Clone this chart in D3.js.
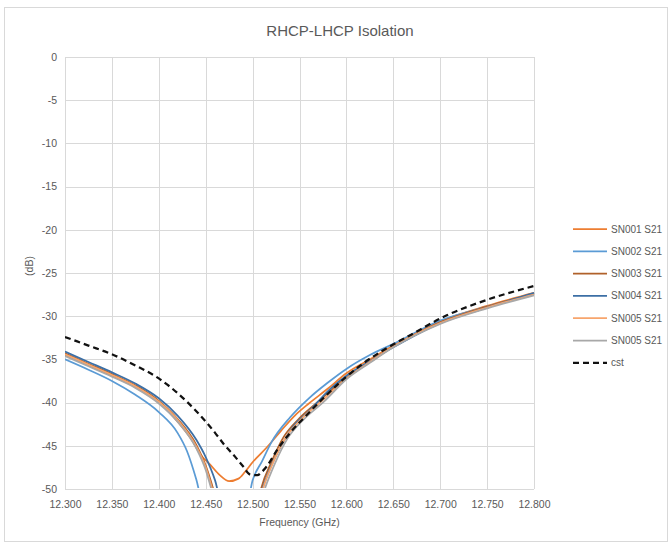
<!DOCTYPE html>
<html>
<head>
<meta charset="utf-8">
<script src="https://cdn.jsdelivr.net/npm/d3@7"></script>
<style>
  body { margin: 0; background: #fff; }
  text { font-family: "Liberation Sans", Arial, sans-serif; fill: #595959; }
</style>
</head>
<body>
<script>
// tick labels
var xTicks = [12.30, 12.35, 12.40, 12.45, 12.50, 12.55, 12.60, 12.65, 12.70, 12.75, 12.80];
var yTicks = [0, -5, -10, -15, -20, -25, -30, -35, -40, -45, -50];

var sn001Freq = [12.300, 12.325, 12.350, 12.375, 12.400, 12.420, 12.435, 12.445, 12.455, 12.465, 12.475, 12.485, 12.492, 12.500, 12.515, 12.530, 12.545, 12.560, 12.580, 12.600, 12.625, 12.650, 12.700, 12.750, 12.800];
var sn001Db   = [-34.5, -35.7, -36.9, -38.2, -39.9, -42.2, -44.3, -46.1, -47.2, -48.4, -49.1, -48.8, -48.0, -46.9, -45.2, -43.3, -41.5, -40.1, -38.4, -36.6, -35.0, -33.4, -30.6, -28.8, -27.3];

var sn002Freq = [12.300, 12.325, 12.350, 12.375, 12.400, 12.420, 12.430, 12.440, 12.450, 12.490, 12.500, 12.510, 12.520, 12.540, 12.560, 12.580, 12.600, 12.625, 12.650, 12.700, 12.750, 12.800];
var sn002Db   = [-35.0, -36.2, -37.5, -39.1, -41.1, -43.5, -45.6, -48.9, -53.0, -54.0, -49.0, -46.8, -44.6, -41.7, -39.5, -37.7, -36.1, -34.5, -33.2, -30.5, -28.9, -27.4];

var sn003Freq = [12.300, 12.325, 12.350, 12.375, 12.400, 12.420, 12.440, 12.450, 12.458, 12.470, 12.500, 12.509, 12.520, 12.533, 12.550, 12.572, 12.600, 12.625, 12.650, 12.700, 12.750, 12.800];
var sn003Db   = [-34.3, -35.5, -36.7, -38.0, -39.8, -41.9, -44.9, -47.3, -50.0, -55.0, -55.0, -50.0, -46.9, -44.0, -41.8, -39.7, -37.1, -35.3, -33.5, -30.7, -28.9, -27.4];

var sn004Freq = [12.300, 12.325, 12.350, 12.375, 12.400, 12.420, 12.440, 12.450, 12.460, 12.470, 12.500, 12.511, 12.520, 12.530, 12.543, 12.561, 12.582, 12.600, 12.625, 12.650, 12.700, 12.750, 12.800];
var sn004Db   = [-34.1, -35.3, -36.5, -37.8, -39.5, -41.5, -44.3, -46.3, -49.0, -53.0, -54.0, -49.8, -47.3, -45.1, -42.8, -40.9, -38.5, -36.9, -35.2, -33.6, -30.8, -29.0, -27.3];

var sn005aFreq = [12.300, 12.325, 12.350, 12.375, 12.400, 12.420, 12.440, 12.450, 12.457, 12.470, 12.500, 12.511, 12.522, 12.535, 12.552, 12.574, 12.600, 12.625, 12.650, 12.700, 12.750, 12.800];
var sn005aDb   = [-34.4, -35.6, -36.8, -38.1, -39.9, -42.0, -45.1, -47.5, -50.0, -55.0, -55.0, -50.0, -46.9, -44.1, -41.9, -39.8, -37.2, -35.3, -33.5, -30.8, -29.0, -27.5];

var sn005bFreq = [12.300, 12.325, 12.350, 12.375, 12.400, 12.420, 12.440, 12.450, 12.456, 12.470, 12.500, 12.513, 12.524, 12.537, 12.554, 12.576, 12.600, 12.625, 12.650, 12.700, 12.750, 12.800];
var sn005bDb   = [-34.6, -35.8, -37.0, -38.3, -40.1, -42.2, -45.3, -47.8, -50.0, -55.0, -55.0, -50.0, -47.0, -44.2, -42.0, -39.9, -37.3, -35.4, -33.6, -30.9, -29.1, -27.6];

var cstFreq = [12.300, 12.325, 12.350, 12.375, 12.400, 12.420, 12.430, 12.440, 12.450, 12.460, 12.470, 12.480, 12.490, 12.497, 12.505, 12.510, 12.515, 12.526, 12.540, 12.558, 12.579, 12.600, 12.620, 12.643, 12.668, 12.707, 12.742, 12.800];
var cstDb   = [-32.4, -33.4, -34.4, -35.7, -37.2, -38.9, -39.9, -41.0, -42.2, -43.5, -44.9, -46.1, -47.4, -48.3, -48.4, -48.0, -47.4, -45.5, -43.5, -41.4, -39.1, -37.0, -35.3, -33.7, -32.2, -29.9, -28.4, -26.5];

var seriesNames  = ["SN001 S21", "SN002 S21", "SN003 S21", "SN004 S21", "SN005 S21", "SN005 S21", "cst"];
var seriesColors = ["#ED7D31", "#5B9BD5", "#B0612A", "#3C6FA5", "#F7A56C", "#A8A8A8", "#111111"];
var seriesFreqs  = [sn001Freq, sn002Freq, sn003Freq, sn004Freq, sn005aFreq, sn005bFreq, cstFreq];
var seriesDbs    = [sn001Db, sn002Db, sn003Db, sn004Db, sn005aDb, sn005bDb, cstDb];

var width = 670,
    height = 546;

// plot box (window.top is taken, hence the prefix)
var plotLeft = 65, plotRight = 534, plotTop = 57, plotBottom = 489;

var svg = d3.select("body").append("svg")
    .attr("width", width)
    .attr("height", height)

// chart frame
svg.append("rect")
    .attr("x", 4.5).attr("y", 7.5)
    .attr("width", 663).attr("height", 534)
    .attr("fill", "none")
    .attr("stroke", "#d9d9d9")

var x = d3.scaleLinear().domain([12.3, 12.8]).range([plotLeft, plotRight])
var y = d3.scaleLinear().domain([-50, 0]).range([plotBottom, plotTop])

/* grid */
svg.append("g").selectAll("line")
    .data(yTicks)
    .enter().append("line")
    .attr("x1", plotLeft).attr("x2", plotRight)
    .attr("y1", function (d) { return Math.round(y(d)) + 0.5 })
    .attr("y2", function (d) { return Math.round(y(d)) + 0.5 })
    .attr("stroke", "#d9d9d9")

svg.append("g").selectAll("line")
    .data(xTicks)
    .enter().append("line")
    .attr("y1", plotTop).attr("y2", plotBottom)
    .attr("x1", function (d) { return Math.round(x(d)) + 0.5 })
    .attr("x2", function (d) { return Math.round(x(d)) + 0.5 })
    .attr("stroke", "#d9d9d9")

/* axes, labels only */
var xAxis = svg.append("g")
    .attr("transform", "translate(0," + plotBottom + ")")
    .call(d3.axisBottom(x).tickValues(xTicks).tickFormat(d3.format(".3f")).tickSize(0).tickPadding(12))
xAxis.select(".domain").remove()
xAxis.selectAll("text").attr("font-size", "10.5px").attr("font-family", null)

// plain hyphen for negatives, like the original
var yAxis = svg.append("g")
    .attr("transform", "translate(" + plotLeft + ",0)")
    .call(d3.axisLeft(y).tickValues(yTicks).tickFormat(function (d) { return String(d) }).tickSize(0).tickPadding(8))
yAxis.select(".domain").remove()
yAxis.selectAll("text").attr("font-size", "10.5px").attr("font-family", null)

/* titles */
svg.append("text")
    .attr("x", 340).attr("y", 36)
    .attr("text-anchor", "middle")
    .attr("font-size", "15px")
    .text("RHCP-LHCP Isolation")

svg.append("text")
    .attr("x", (plotLeft + plotRight) / 2).attr("y", 526)
    .attr("text-anchor", "middle")
    .attr("font-size", "10.5px")
    .text("Frequency (GHz)")

svg.append("text")
    .attr("transform", "translate(33," + 266 + ") rotate(-90)")
    .attr("text-anchor", "middle")
    .attr("font-size", "10.5px")
    .text("(dB)")

/* curves */
svg.append("clipPath").attr("id", "plot")
  .append("rect")
    .attr("x", plotLeft).attr("y", plotTop - 2)
    .attr("width", plotRight - plotLeft + 2).attr("height", plotBottom - plotTop + 1)

var line = d3.line()
    .x(function (d) { return x(d[0]) })
    .y(function (d) { return y(d[1]) })
    .curve(d3.curveMonotoneX)

var curves = seriesNames.map(function (name, i) {
  return {
    name: name,
    color: seriesColors[i],
    dashed: name == "cst",
    points: d3.zip(seriesFreqs[i], seriesDbs[i])
  }
})

svg.append("g").attr("clip-path", "url(#plot)")
  .selectAll("path")
    .data(curves)
    .enter().append("path")
    .attr("d", function (d) { return line(d.points) })
    .attr("fill", "none")
    .attr("stroke", function (d) { return d.color })
    .attr("stroke-width", function (d) { return d.dashed ? 2.25 : 1.75 })
    .attr("stroke-dasharray", function (d) { return d.dashed ? "6,4" : null })
    .attr("stroke-linejoin", "round")

/* legend */
var legend = svg.append("g").selectAll("g")
    .data(curves)
    .enter().append("g")
    .attr("transform", function (d, i) { return "translate(573," + (229 + i * 22.3) + ")" })

legend.append("line")
    .attr("x1", 0).attr("x2", 34)
    .attr("stroke", function (d) { return d.color })
    .attr("stroke-width", function (d) { return d.dashed ? 2.25 : 1.75 })
    .attr("stroke-dasharray", function (d) { return d.dashed ? "6,4" : null })

legend.append("text")
    .attr("x", 38).attr("dy", "0.35em")
    .attr("font-size", "10px")
    .text(function (d) { return d.name })
</script>
</body>
</html>
